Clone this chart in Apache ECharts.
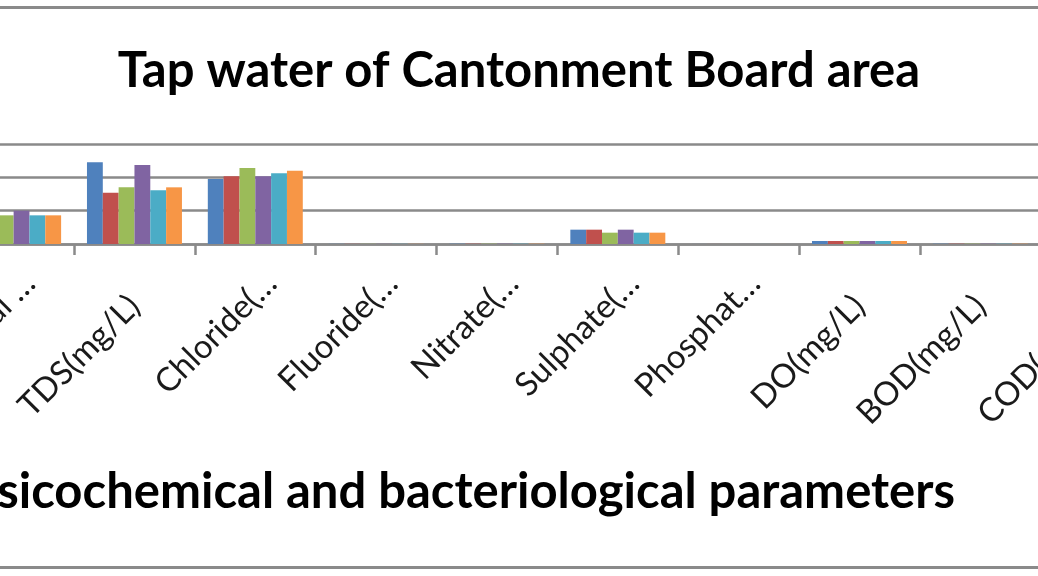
<!DOCTYPE html>
<html><head><meta charset="utf-8">
<script src="https://cdn.jsdelivr.net/npm/echarts@6/dist/echarts.min.js"></script>
<style>
html,body{margin:0;padding:0;background:#fff;overflow:hidden;}
#frame{position:absolute;left:-10px;width:1058px;top:6px;height:563px;border-top:3px solid #8a8a8a;border-bottom:3px solid #8a8a8a;box-sizing:border-box;}
#chart{position:absolute;left:0;top:0;width:1038px;height:576px;}
</style></head><body>
<div id="frame"></div>
<div id="chart"></div>
<script>
// Category tick labels (as displayed, truncated like the source)
const categories = ['Total …', 'TDS(mg/L)', 'Chloride(…', 'Fluoride(…', 'Nitrate(…', 'Sulphate(…', 'Phosphat…', 'DO(mg/L)', 'BOD(mg/L)', 'COD(mg/L)'];
// Six samples (axis 0–300)
const sample1 = [88, 245, 195, 0.4, 0.8, 43, 0.1, 9, 0.8, 12];
const sample2 = [88, 154, 203, 0.4, 0.8, 43, 0.1, 9, 0.8, 12];
const sample3 = [86, 170, 228, 0.4, 0.8, 34, 0.1, 9, 0.8, 12];
const sample4 = [100, 237, 203, 0.4, 0.8, 43, 0.1, 9, 0.8, 12];
const sample5 = [86, 161, 212, 0.4, 0.8, 34, 0.1, 9, 0.8, 12];
const sample6 = [86, 170, 220, 0.4, 0.8, 34, 0.1, 9, 0.8, 12];
const seriesNames = ['Sample 1', 'Sample 2', 'Sample 3', 'Sample 4', 'Sample 5', 'Sample 6'];
const seriesData = [sample1, sample2, sample3, sample4, sample5, sample6];
const colors = ['#4F81BD', '#C0504D', '#9BBB59', '#8064A2', '#4BACC6', '#F79646'];

const FONT = 'Lato, "Open Sans", sans-serif';
const isTrunc = v => v.endsWith('…');
const labelBase = { interval: 0, rotate: 45, align: 'right', verticalAlign: 'middle',
  fontSize: 33, fontFamily: FONT, color: '#1a1a1a' };

const chart = echarts.init(document.getElementById('chart'), null, { renderer: 'canvas' });
chart.setOption({
  animation: false,
  color: colors,
  title: [
    { text: 'Tap water of Cantonment Board area', left: 'center', top: 42,
      textStyle: { fontSize: 49, fontWeight: 'bold', fontFamily: FONT, color: '#000' } },
    { text: 'Physicochemical and bacteriological parameters', right: 78, top: 463,
      textStyle: { fontSize: 49, fontWeight: 'bold', fontFamily: FONT, color: '#000' } }
  ],
  grid: [
    { left: -46.8, right: -123.6, top: 144, bottom: 332, containLabel: false, outerBoundsMode: 'none' },
    // label-only twin grid: truncated labels sit a little further right, as in the source
    { left: -30.8, right: -139.6, top: 144, bottom: 332, containLabel: false, outerBoundsMode: 'none' }
  ],
  xAxis: [
    {
      type: 'category', data: categories, gridIndex: 0,
      axisLine: { lineStyle: { color: '#8a8a8a', width: 2.5 } },
      axisTick: { show: true, length: 11, lineStyle: { color: '#8a8a8a', width: 2.5 } },
      axisLabel: Object.assign({}, labelBase, { margin: 57, formatter: v => isTrunc(v) ? '' : v })
    },
    {
      type: 'category', data: categories, gridIndex: 1,
      axisLine: { show: false }, axisTick: { show: false },
      axisLabel: Object.assign({}, labelBase, { margin: 34, formatter: v => isTrunc(v) ? v : '' })
    }
  ],
  yAxis: [
    { type: 'value', min: 0, max: 300, interval: 100, gridIndex: 0,
      axisLabel: { show: false }, axisLine: { show: false }, axisTick: { show: false },
      splitLine: { lineStyle: { color: '#8a8a8a', width: 2.5 } } },
    { type: 'value', min: 0, max: 300, interval: 100, gridIndex: 1, show: false }
  ],
  series: seriesData.map((d, i) => ({
    name: seriesNames[i], type: 'bar', data: d, xAxisIndex: 0, yAxisIndex: 0,
    barGap: '0%', barCategoryGap: '21.4%'
  }))
});
</script>
</body></html>
